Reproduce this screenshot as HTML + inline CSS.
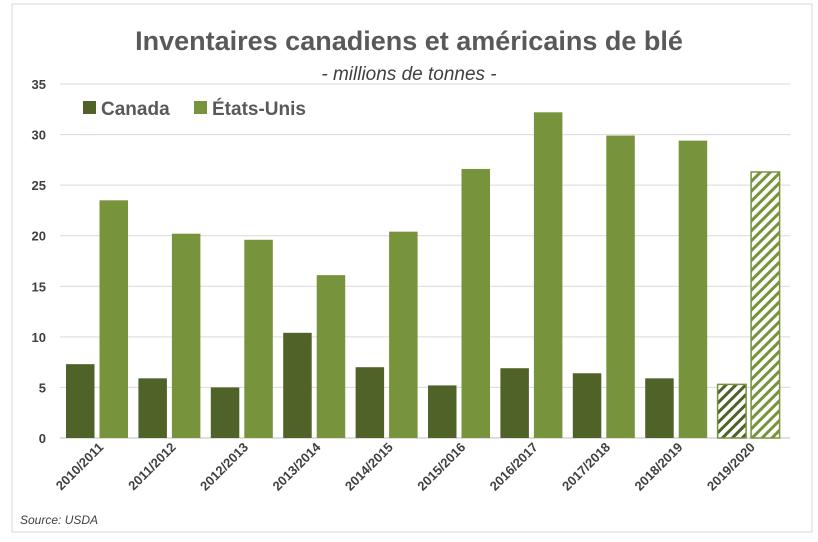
<!DOCTYPE html>
<html><head><meta charset="utf-8"><style>
body{margin:0;background:#fff;}
svg text{font-family:"Liberation Sans",sans-serif;}
</style></head><body>
<svg id="chart" width="818" height="537" viewBox="0 0 818 537">
<defs>
<pattern id="hatchC" patternUnits="userSpaceOnUse" width="7" height="7" patternTransform="rotate(45)"><rect width="7" height="7" fill="#fff"/><rect width="3" height="7" fill="#4f6228"/></pattern>
<pattern id="hatchU" patternUnits="userSpaceOnUse" width="7" height="7" patternTransform="rotate(45)"><rect width="7" height="7" fill="#fff"/><rect width="3" height="7" fill="#77933c"/></pattern>
</defs>
<rect x="12" y="4" width="800" height="528" fill="#fff" stroke="#d9d9d9"/>
<text x="409" y="50" text-anchor="middle" font-size="27" font-weight="bold" fill="#595959">Inventaires canadiens et américains de blé</text>
<text x="409" y="80" text-anchor="middle" font-size="19" font-style="italic" fill="#404040">- millions de tonnes -</text>
<g id="grid"></g><g id="bars"></g><g id="xlabels"></g>
<g>
<rect x="83" y="101" width="13" height="13" fill="#4f6228"/>
<text x="101" y="115" font-size="19" font-weight="bold" fill="#595959">Canada</text>
<rect x="194" y="101" width="13" height="13" fill="#77933c"/>
<text x="212" y="115" font-size="19" font-weight="bold" fill="#595959">États-Unis</text>
</g>
<text x="20" y="524" font-size="12" font-style="italic" fill="#404040">Source: USDA</text>
</svg>
<script>
const categories=["2010/2011","2011/2012","2012/2013","2013/2014","2014/2015","2015/2016","2016/2017","2017/2018","2018/2019","2019/2020"];
const canada=[7.3,5.9,5.0,10.4,7.0,5.2,6.9,6.4,5.9,5.3];
const us=[23.5,20.2,19.6,16.1,20.4,26.6,32.2,29.9,29.4,26.3];
const ticks=[0,5,10,15,20,25,30,35];
const projected=[false,false,false,false,false,false,false,false,false,true];
const NS="http://www.w3.org/2000/svg";
const x0=60,x1=784,y0=438,yTop=84,ymax=35;
const y=v=>y0-(y0-yTop)*v/ymax;
const gw=(x1-x0)/categories.length;
const grid=document.getElementById('grid'),bars=document.getElementById('bars'),xl=document.getElementById('xlabels');
function mk(t,a,p){const e=document.createElementNS(NS,t);for(const k in a)e.setAttribute(k,a[k]);p.appendChild(e);return e;}
ticks.forEach(t=>{
 const l=mk('line',{x1:x0,x2:x1+6,y1:y(t),y2:y(t),stroke:t===0?'#bfbfbf':'#d9d9d9','stroke-width':1},grid);
 
 
 const tx=mk('text',{x:46,y:y(t)+5,'text-anchor':'end','font-size':13,'font-weight':'bold',fill:'#404040'},grid);
 tx.textContent=t;
 
 
});
categories.forEach((c,i)=>{
 const gx=x0+i*gw;
 const bw=28.5;
 const cx=gx+6, ux=gx+39.5;
 const p=projected[i];
 const b1=mk('rect',{x:cx,y:y(canada[i]),width:bw,height:y0-y(canada[i]),fill:p?'url(#hatchC)':'#4f6228',stroke:p?'#77933c':'none','stroke-width':1.5},bars);
 
 
 const b2=mk('rect',{x:ux,y:y(us[i]),width:bw,height:y0-y(us[i]),fill:p?'url(#hatchU)':'#77933c',stroke:p?'#77933c':'none','stroke-width':1.5},bars);
 
 
 const lx=gx+gw/2+8, ly=448;
 const t=mk('text',{x:lx,y:ly,'text-anchor':'end','font-size':13,'font-weight':'bold',fill:'#404040',transform:`rotate(-45 ${lx} ${ly})`},xl);
 t.textContent=c;
 
 
});
</script>
</body></html>
